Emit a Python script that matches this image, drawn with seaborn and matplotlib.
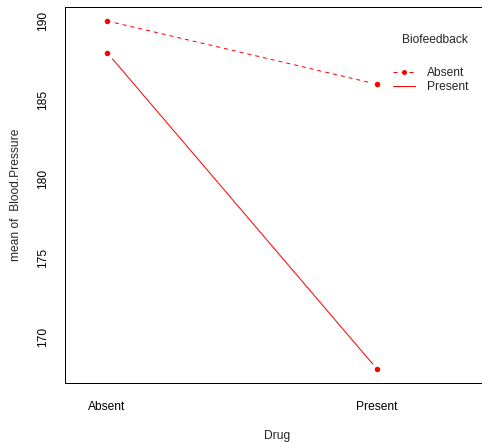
import matplotlib
matplotlib.use("Agg")
import matplotlib.pyplot as plt
from matplotlib.lines import Line2D
import pandas as pd
import seaborn as sns

sns.set_style("white")
plt.rcParams["font.family"] = ["Liberation Sans", "DejaVu Sans"]

# cell means
drug = ["Absent", "Present"]
bp_no_feedback = [190, 186]      # Biofeedback = Absent
bp_feedback = [188, 168]         # Biofeedback = Present

df = pd.DataFrame({
    "Drug": drug * 2,
    "Biofeedback": ["Absent"] * 2 + ["Present"] * 2,
    "Blood.Pressure": bp_no_feedback + bp_feedback,
})

fig = plt.figure(figsize=(482 / 72, 442 / 72), dpi=72)
ax = fig.add_axes([65 / 482, 1 - 383 / 442, 425 / 482, 376 / 442])

sns.lineplot(data=df, x="Drug", y="Blood.Pressure", hue="Biofeedback",
             style="Biofeedback", palette={"Absent": "red", "Present": "red"},
             dashes={"Absent": (4, 4), "Present": ""}, linewidth=1,
             sort=False, legend=False, ax=ax, zorder=2)
# white halo then red dot -> R's type="b" gap around the points
sns.scatterplot(data=df, x="Drug", y="Blood.Pressure", color="white",
                s=14 ** 2, linewidth=0, legend=False, ax=ax, zorder=3)
sns.scatterplot(data=df, x="Drug", y="Blood.Pressure", color="red",
                s=30, linewidth=0, legend=False, ax=ax, zorder=4)

ax.set_xlim(-0.156, 1.4185)
ax.set_ylim(167.12, 190.88)
ax.set_yticks([170, 175, 180, 185, 190])
ax.tick_params(axis="both", length=0, labelsize=12, colors="black")
ax.tick_params(axis="x", pad=18)
ax.tick_params(axis="y", pad=16)
for lab in ax.get_yticklabels():
    lab.set_rotation(90)
    lab.set_va("center")

for sp in ax.spines.values():
    sp.set_color("black")
    sp.set_linewidth(1)

ax.set_xlabel("Drug", fontsize=12)
ax.set_ylabel("mean of  Blood.Pressure", fontsize=12)
ax.xaxis.set_label_coords(0.5, -(436 - 383) / 376)
ax.yaxis.set_label_coords(-(65 - 16) / 425, 0.5)
ax.xaxis.label.set_va("center")
ax.yaxis.label.set_va("center")

fig.text(435 / 482, 1 - 40 / 442, "Biofeedback", fontsize=12,
         ha="center", va="center")
handles = [
    Line2D([], [], color="red", linestyle=(0, (4, 4)), linewidth=1,
           marker="o", markersize=5, markeredgewidth=0),
    Line2D([], [], color="red", linestyle="-", linewidth=1),
]
fig.legend(handles, ["Absent", "Present"], loc="upper left",
           bbox_to_anchor=(393 / 482, 1 - 67 / 442), frameon=False,
           fontsize=12, borderpad=0, borderaxespad=0, handlelength=1.85,
           handletextpad=1.0, labelspacing=0.2)

fig.savefig("out.png", dpi=72)
